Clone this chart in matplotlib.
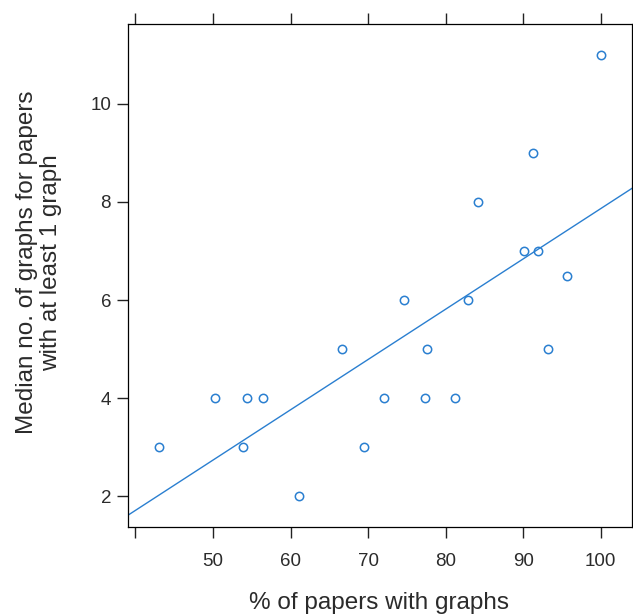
import numpy as np
import matplotlib
matplotlib.use("Agg")
import matplotlib.pyplot as plt

plt.rcParams['font.family'] = ['Liberation Sans', 'DejaVu Sans']

# % of papers with graphs vs median no. of graphs (papers with >= 1 graph)
pct_graphs = [43.1, 50.2, 53.9, 54.4, 56.5, 61.1, 66.7, 69.5, 72.0, 74.6,
              77.3, 77.6, 81.2, 82.9, 84.2, 90.1, 91.3, 91.9, 93.2, 95.6, 100.0]
median_graphs = [3, 4, 3, 4, 4, 2, 5, 3, 4, 6,
                 4, 5, 4, 6, 8, 7, 9, 7, 5, 6.5, 11]

xticks = [40, 50, 60, 70, 80, 90, 100]
xticklabels = ['', '50', '60', '70', '80', '90', '100']
yticks = [2, 4, 6, 8, 10]

blue = '#2a7fd0'
ink = '#2b2b2b'

fig = plt.figure(figsize=(6.33, 6.14), dpi=100)
ax = fig.add_axes([0.2017, 0.1417, 0.7963, 0.8192])

x = np.array(pct_graphs)
y = np.array(median_graphs)
ax.plot(x, y, linestyle='none', marker='o', markersize=6, markerfacecolor='none',
        markeredgecolor=blue, markeredgewidth=1.1)

# least squares fit line across the panel
slope, icpt = np.polyfit(x, y, 1)
xl = np.array([39.0, 104.0])
ax.plot(xl, icpt + slope * xl, color=blue, linewidth=1.0)

ax.set_xlim(39.0, 104.0)
ax.set_ylim(1.37, 11.63)

ax.set_xticks(xticks)
ax.set_xticklabels(xticklabels)
ax.set_yticks(yticks)

for s in ax.spines.values():
    s.set_color('black')
    s.set_linewidth(0.9)

ax.tick_params(axis='both', direction='out', length=8, width=1.0, color='#222222',
               labelsize=13.5, labelcolor=ink, top=True, right=True)
ax.tick_params(axis='x', pad=11)
ax.tick_params(axis='y', pad=4)

fig.text(0.598, 0.018, '% of papers with graphs', ha='center', va='center',
         fontsize=17.5, color=ink)
fig.text(0.062, 0.573, 'Median no. of graphs for papers\nwith at least 1 graph',
         ha='center', va='center', rotation=90, fontsize=17.5, color=ink,
         linespacing=1.15, multialignment='center')

fig.savefig('out.png', dpi=100)
